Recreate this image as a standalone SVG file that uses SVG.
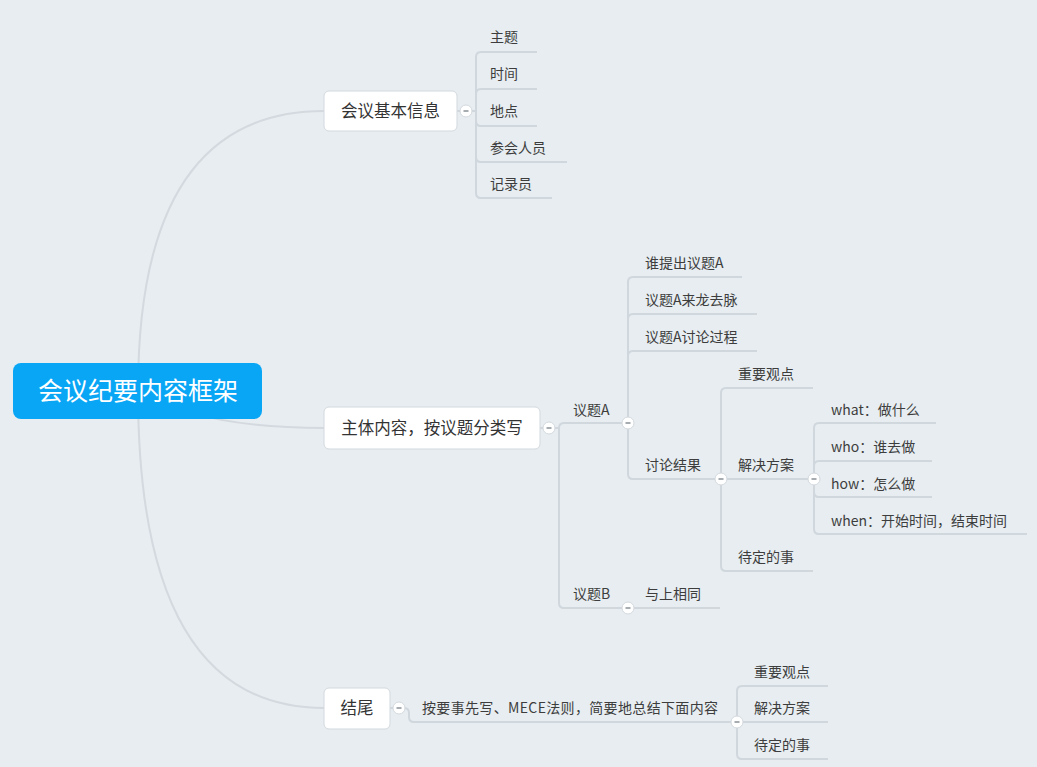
<svg xmlns="http://www.w3.org/2000/svg" width="1037" height="767" viewBox="0 0 1037 767">
<style>
.ln{fill:none;stroke:#d0d7dd;stroke-width:2}
.mn{fill:none;stroke:#d3d9de;stroke-width:2}
.box{fill:#ffffff;stroke:#d3d9de;stroke-width:1}
.t1{font-family:"Noto Sans CJK SC","Noto Sans",sans-serif;font-size:16.5px;fill:#333333}
.t2{font-family:"Noto Sans CJK SC","Noto Sans",sans-serif;font-size:14px;fill:#3d3d3d}
.t3{font-family:"Noto Sans CJK SC","Noto Sans",sans-serif;font-size:14px;fill:#3d3d3d}
.root{font-family:"Noto Sans CJK SC","Noto Sans",sans-serif;font-size:25px;fill:#ffffff}
.btnc{fill:#ffffff;stroke:#d3d9de;stroke-width:1}
.btnm{stroke:#8a9096;stroke-width:1.5}
</style>
<defs>
<g id="btn"><circle r="6" class="btnc"/><line x1="-2.5" y1="0" x2="2.5" y2="0" class="btnm"/></g>
</defs>
<rect width="1037" height="767" fill="#e7edf1"/>
<g id="connectors">
<path class="mn" d="M138 391 Q138 111 324 111"/>
<path class="mn" d="M138 391 Q200 428 324 428"/>
<path class="mn" d="M138 391 Q138 708 324 708"/>
<path class="ln" d="M457 111 H466"/>
<path class="ln" d="M540 428 H549"/>
<path class="ln" d="M390 708 H399"/>
<path class="ln" d="M466 111 H476 V57 Q476 52 481 52 H537"/>
<path class="ln" d="M466 111 H476 V94 Q476 89 481 89 H537"/>
<path class="ln" d="M466 111 H476 V121 Q476 126 481 126 H537"/>
<path class="ln" d="M466 111 H476 V157 Q476 162 481 162 H567"/>
<path class="ln" d="M466 111 H476 V193 Q476 198 481 198 H552"/>
<path class="ln" d="M549 428 H559 Q559 423 564 423 H628"/>
<path class="ln" d="M549 428 H559 V603 Q559 608 564 608 H628"/>
<path class="ln" d="M628 423 V282 Q628 277 633 277 H742"/>
<path class="ln" d="M628 423 V319 Q628 314 633 314 H757"/>
<path class="ln" d="M628 423 V356 Q628 351 633 351 H757"/>
<path class="ln" d="M628 423 V474 Q628 479 633 479 H721"/>
<path class="ln" d="M721 479 V393 Q721 388 726 388 H813"/>
<path class="ln" d="M721 479 H814"/>
<path class="ln" d="M721 479 V566 Q721 571 726 571 H813"/>
<path class="ln" d="M814 479 V428 Q814 423 819 423 H936"/>
<path class="ln" d="M814 479 V466 Q814 461 819 461 H932"/>
<path class="ln" d="M814 479 V492 Q814 497 819 497 H932"/>
<path class="ln" d="M814 479 V529 Q814 534 819 534 H1027"/>
<path class="ln" d="M628 608 H720"/>
<path class="ln" d="M399 708 H404 Q409 708 409 713 V717 Q409 722 414 722 H737"/>
<path class="ln" d="M737 722 V691 Q737 686 742 686 H828"/>
<path class="ln" d="M737 722 H828"/>
<path class="ln" d="M737 722 V754 Q737 759 742 759 H828"/>
</g>
<g id="root">
<rect x="13" y="363" width="249" height="56" rx="8" fill="#0aa6f6"/>
<text x="138" y="400" text-anchor="middle" class="root">会议纪要内容框架</text>
</g>
<g id="n-basic">
<rect x="324" y="91" width="133" height="40" rx="5" class="box"/>
<text x="390.5" y="117" text-anchor="middle" class="t1">会议基本信息</text>
<use href="#btn" x="466" y="111"/>
</g>
<g id="n-topic"><text x="490" y="42" class="t2">主题</text></g>
<g id="n-time"><text x="490" y="79" class="t2">时间</text></g>
<g id="n-place"><text x="490" y="116" class="t2">地点</text></g>
<g id="n-people"><text x="490" y="153" class="t2">参会人员</text></g>
<g id="n-recorder"><text x="490" y="189" class="t2">记录员</text></g>
<g id="n-main">
<rect x="324" y="407" width="216" height="42" rx="5" class="box"/>
<text x="432" y="434" text-anchor="middle" class="t1">主体内容，按议题分类写</text>
<use href="#btn" x="549" y="428"/>
</g>
<g id="n-a">
<text x="573" y="415" class="t3">议题A</text>
<use href="#btn" x="628" y="423"/>
</g>
<g id="n-a1"><text x="645" y="268" class="t2">谁提出议题A</text></g>
<g id="n-a2"><text x="645" y="305" class="t2">议题A来龙去脉</text></g>
<g id="n-a3"><text x="645" y="342" class="t2">议题A讨论过程</text></g>
<g id="n-a4">
<text x="645" y="470" class="t2">讨论结果</text>
<use href="#btn" x="721" y="479"/>
</g>
<g id="n-r1"><text x="738" y="379" class="t2">重要观点</text></g>
<g id="n-r2">
<text x="738" y="470" class="t2">解决方案</text>
<use href="#btn" x="814" y="479"/>
</g>
<g id="n-r3"><text x="738" y="562" class="t2">待定的事</text></g>
<g id="n-what"><text x="831" y="415" class="t3">what：做什么</text></g>
<g id="n-who"><text x="831" y="452" class="t3">who：谁去做</text></g>
<g id="n-how"><text x="831" y="489" class="t3">how：怎么做</text></g>
<g id="n-when"><text x="831" y="526" class="t3">when：开始时间，结束时间</text></g>
<g id="n-b">
<text x="573" y="599" class="t3">议题B</text>
<use href="#btn" x="628" y="608"/>
</g>
<g id="n-b1"><text x="645" y="599" class="t2">与上相同</text></g>
<g id="n-end">
<rect x="324" y="688" width="66" height="41" rx="5" class="box"/>
<text x="357" y="714" text-anchor="middle" class="t1">结尾</text>
<use href="#btn" x="399" y="708"/>
</g>
<g id="n-sum">
<text x="422" y="713" class="t3" textLength="296">按要事先写、MECE法则，简要地总结下面内容</text>
<use href="#btn" x="737" y="722"/>
</g>
<g id="n-s1"><text x="754" y="677" class="t2">重要观点</text></g>
<g id="n-s2"><text x="754" y="713" class="t2">解决方案</text></g>
<g id="n-s3"><text x="754" y="750" class="t2">待定的事</text></g>
</svg>
